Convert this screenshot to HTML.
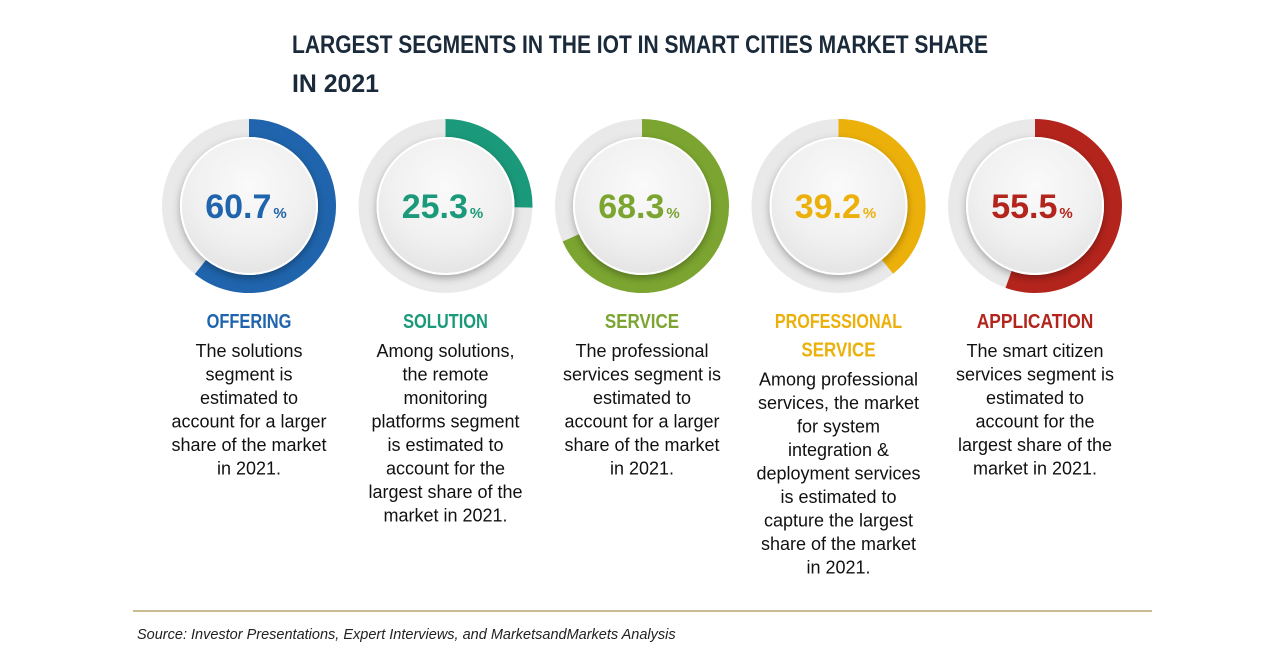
<!DOCTYPE html>
<html><head><meta charset="utf-8"><style>
html,body{margin:0;padding:0;background:#fff;}
svg{display:block;}
</style></head><body>
<svg id="chart" width="1280" height="670" xmlns="http://www.w3.org/2000/svg">
<defs>
<radialGradient id="ig" cx="50%" cy="35%" r="70%"><stop offset="0" stop-color="#fafafa"/><stop offset="0.6" stop-color="#f0f0f0"/><stop offset="1" stop-color="#e2e2e2"/></radialGradient>
<filter id="sh" x="-20%" y="-20%" width="140%" height="140%"><feDropShadow dx="0" dy="3" stdDeviation="4" flood-color="#000" flood-opacity="0.3"/></filter>
</defs>
<text x="292" y="53" font-family="Liberation Sans, sans-serif" font-weight="bold" font-size="25" fill="#1a2a3a" textLength="696" lengthAdjust="spacingAndGlyphs">LARGEST SEGMENTS IN THE IOT IN SMART CITIES MARKET SHARE</text>
<text x="292" y="92" font-family="Liberation Sans, sans-serif" font-weight="bold" font-size="25" fill="#1a2a3a" textLength="87" lengthAdjust="spacingAndGlyphs">IN 2021</text>
<g id="donuts"></g>
<line x1="133" y1="611" x2="1152" y2="611" stroke="#b8a66c" stroke-width="1.5"/>
<text x="137" y="639" font-family="Liberation Sans, sans-serif" font-style="italic" font-size="14.5" fill="#222">Source: Investor Presentations, Expert Interviews, and MarketsandMarkets Analysis</text>
</svg>
<script>
const categories = ["OFFERING","SOLUTION","SERVICE","PROFESSIONAL SERVICE","APPLICATION"];
const shares = [60.7, 25.3, 68.3, 39.2, 55.5];
const colors = ["#1f64ac","#1a9a7a","#7ba530","#ecb00a","#b3241c"];
const labelLines = [["OFFERING"],["SOLUTION"],["SERVICE"],["PROFESSIONAL","SERVICE"],["APPLICATION"]];
const descriptions = [
 ["The solutions","segment is","estimated to","account for a larger","share of the market","in 2021."],
 ["Among solutions,","the remote","monitoring","platforms segment","is estimated to","account for the","largest share of the","market in 2021."],
 ["The professional","services segment is","estimated to","account for a larger","share of the market","in 2021."],
 ["Among professional","services, the market","for system","integration &","deployment services","is estimated to","capture the largest","share of the market","in 2021."],
 ["The smart citizen","services segment is","estimated to","account for the","largest share of the","market in 2021."]
];
const NS="http://www.w3.org/2000/svg";
const g=document.getElementById('donuts');
const x0=249, dx=196.5, cy=206, R=78, W=18, rin=68;
function mk(t,a){const e=document.createElementNS(NS,t);for(const k in a)e.setAttribute(k,a[k]);return e;}
function pt(cx,a,r){return [cx+r*Math.sin(a), cy-r*Math.cos(a)];}
categories.forEach((c,i)=>{
  const cx=x0+i*dx;
  const grp=mk('g',{});
  
  
  const bg=mk('circle',{cx:cx,cy:cy,r:R,fill:'none',stroke:'#e9e9e9','stroke-width':W});
  
  
  grp.appendChild(bg);
  const a=shares[i]/100*2*Math.PI;
  const [sx,sy]=pt(cx,0,R),[ex,ey]=pt(cx,a,R);
  const arc=mk('path',{d:`M${sx},${sy} A${R},${R} 0 ${a>Math.PI?1:0} 1 ${ex},${ey}`,fill:'none',stroke:colors[i],'stroke-width':W});
  
  
  grp.appendChild(arc);
  const inner=mk('circle',{cx:cx,cy:cy,r:rin,fill:'url(#ig)',stroke:'#fff','stroke-width':2,filter:'url(#sh)'});
  
  
  grp.appendChild(inner);
  const v=mk('text',{x:cx-3,y:cy+12,'text-anchor':'middle','font-family':'Liberation Sans, sans-serif','font-size':34,'font-weight':'bold',fill:colors[i]});
  
  
  v.textContent=shares[i].toFixed(1);
  const p=mk('tspan',{'font-size':15,dx:2});p.textContent='%';v.appendChild(p);
  grp.appendChild(v);
  let y=328;
  labelLines[i].forEach(l=>{
    const t=mk('text',{x:cx,y:y,'text-anchor':'middle','font-family':'Liberation Sans, sans-serif','font-weight':'bold','font-size':20,fill:colors[i],textLength:l.length*10.6,lengthAdjust:'spacingAndGlyphs'});
    
    
    t.textContent=l;grp.appendChild(t);y+=28.5;
  });
  y+=0.5;
  descriptions[i].forEach(l=>{
    const t=mk('text',{x:cx,y:y,'text-anchor':'middle','font-family':'Liberation Sans, sans-serif','font-size':18,fill:'#111'});
    
    
    t.textContent=l;grp.appendChild(t);y+=23.5;
  });
  g.appendChild(grp);
});
</script>
</body></html>
